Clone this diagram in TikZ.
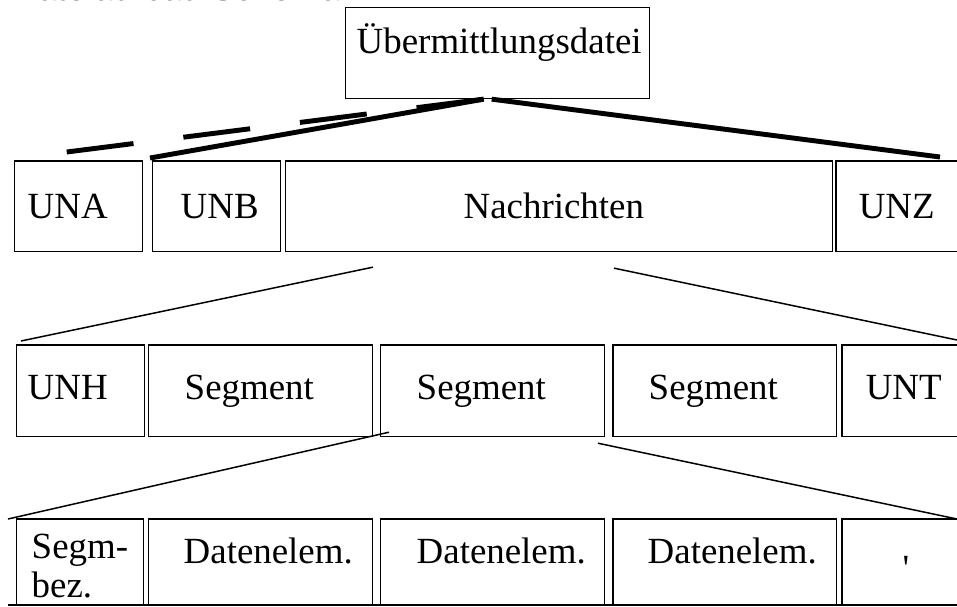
\documentclass[tikz,border=0pt]{standalone}
\usepackage{fontspec}
\newfontfamily\feldfont{Liberation Serif}[Ligatures=TeXOff]
\newfontfamily\titelfont{Liberation Sans}

\tikzset{
  feld/.style={draw, line width=0.85pt, anchor=north west, inner sep=0pt,
    align=left, font=\feldfont\fontsize{21}{22.1}\selectfont},
  kopf/.style={text height=26.1pt, text depth=25.5pt},
  reihea/.style={text height=32.9pt, text depth=18.7pt},
  reiheb/.style={text height=31.2pt, text depth=21pt},
  reihec/.style={text height=25.5pt, text depth=23.2pt},
  dick/.style={line width=2.8pt},
  duenn/.style={line width=0.85pt},
}

\begin{document}
\begin{tikzpicture}[x=0.02cm,y=-0.02cm]
  \useasboundingbox (0,0) rectangle (957,606);

  \node[anchor=base west, font=\titelfont\itshape\fontsize{20}{24}\selectfont]
    (titel) at (7,0) {Dateiaufbau Schema:};

  % Datei
  \node[feld, kopf, text width=6.08cm] (ueb) at (345,7)
    {\hspace*{0.22cm}Übermittlungsdatei};

  % Ebene 1
  \node[feld, reihea, text width=2.56cm] (una) at (14,160) {\hspace*{0.26cm}UNA};
  \node[feld, reihea, text width=2.56cm] (unb) at (152,160) {\hspace*{0.56cm}UNB};
  \node[feld, reihea, text width=10.94cm] (nachr) at (285,160) {\hspace*{3.56cm}Nachrichten};
  \node[feld, reihea, text width=3cm] (unz) at (835,160) {\hspace*{0.46cm}UNZ};

  % Ebene 2
  \node[feld, reiheb, text width=2.56cm] (unh) at (16,344) {\hspace*{0.22cm}UNH};
  \node[feld, reiheb, text width=4.48cm] (seg1) at (148,344) {\hspace*{0.72cm}Segment};
  \node[feld, reiheb, text width=4.48cm] (seg2) at (380,344) {\hspace*{0.72cm}Segment};
  \node[feld, reiheb, text width=4.48cm] (seg3) at (612,344) {\hspace*{0.72cm}Segment};
  \node[feld, reiheb, text width=3cm] (unt) at (841,344) {\hspace*{0.48cm}UNT};

  % Ebene 3
  \node[feld, text height=22.7pt, text depth=26.1pt, text width=2.54cm] (segbez) at (16,518)
    {\hspace*{0.3cm}Segm-\\\hspace*{0.3cm}bez.};
  \node[feld, reihec, text width=4.48cm] (dat1) at (148,518) {\hspace*{0.7cm}Datenelem.};
  \node[feld, reihec, text width=4.48cm] (dat2) at (380,518) {\hspace*{0.72cm}Datenelem.};
  \node[feld, reihec, text width=4.48cm] (dat3) at (612,518) {\hspace*{0.7cm}Datenelem.};
  \node[feld, text height=35.1pt, text depth=13.7pt, text width=3cm] (apos) at (841,518)
    {\hspace*{1.22cm}'};

  % Verbindungen
  \coordinate (ueb-l) at ([shift={(-14,0)}]ueb.south);
  \coordinate (ueb-r) at ([shift={(-6,0)}]ueb.south);
  \draw[dick, dash pattern=on 38.3pt off 28.6pt] ([shift={(-12,-8)}]una.north) -- (ueb-l);
  \draw[dick] ([shift={(-2,-2)}]unb.north west) -- (ueb-l);
  \draw[dick] (ueb-r) -- ([shift={(105,-3)}]unz.north west);

  \draw[duenn] ([shift={(88,15)}]nachr.south west) -- ([shift={(5,-3)}]unh.north west);
  \draw[duenn] ([shift={(329,16)}]nachr.south west) -- ([shift={(116,-4)}]unt.north west);
  \draw[duenn] ([shift={(9,-5)}]seg2.south west) -- ([shift={(-8,1)}]segbez.north west);
  \draw[duenn] ([shift={(218,6)}]seg2.south west) -- ([shift={(116,1)}]apos.north west);
  \draw[duenn] ([shift={(-8,0)}]segbez.south west) -- ([shift={(116,0)}]apos.south west);
\end{tikzpicture}
\end{document}
